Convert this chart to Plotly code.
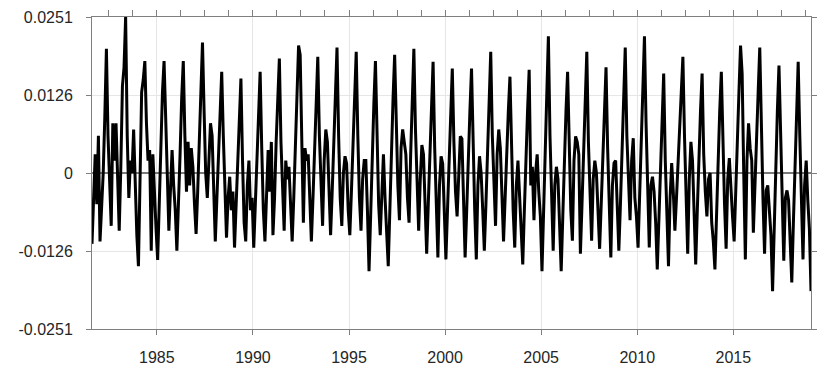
import plotly.graph_objects as go

# Monthly values (units of 1e-4); Jan..Dec
y1981 = [-114, -40, 30, -50, 60]  # Aug..Dec
y1982 = [-110, -50, 0, 90, 200, 60, -30, -85, 80, 20, 80, -20]
y1983 = [-93, 10, 140, 170, 251, 60, -40, 20, 0, 70, -30, -100]
y1984 = [-150, -20, 130, 150, 180, 80, 20, 37, -125, 30, -40, -90]
y1985 = [-140, -40, 50, 130, 180, 70, 0, -93, -30, 37, -20, -60]
y1986 = [-125, -60, 30, 120, 180, 60, -30, 50, -20, 40, 10, -50]
y1987 = [-98, -30, 60, 120, 210, 100, 0, -40, 30, 80, 60, -20]
y1988 = [-110, -40, 40, 110, 163, 60, -30, -104, -40, -6, -60, -30]
y1989 = [-120, -50, 30, 100, 152, 20, -80, -110, -20, 20, -60, -40]
y1990 = [-120, -50, 30, 100, 163, 40, -60, -110, -20, 37, -30, 50]
y1991 = [-100, -40, 50, 120, 184, 50, -40, -93, 20, -10, 10, -50]
y1992 = [-110, -40, 40, 130, 205, 190, 20, -80, 40, 20, 30, -60]
y1993 = [-110, -40, 50, 120, 187, 60, -30, -85, 20, 70, 50, -40]
y1994 = [-100, -30, 50, 130, 202, 60, -40, -85, 0, 27, 15, -60]
y1995 = [-100, -30, 50, 120, 195, 60, -40, -93, -10, 20, 20, -60]
y1996 = [-158, -70, 30, 110, 180, 50, -50, -100, -20, 30, -40, -100]
y1997 = [-150, -60, 40, 120, 190, 80, -20, -76, 40, 70, 50, 30]
y1998 = [-40, -80, 30, 120, 200, 70, -30, -93, -10, 45, 30, -50]
y1999 = [-130, -50, 40, 110, 179, 40, -60, -136, -20, 27, 15, -60]
y2000 = [-139, -60, 30, 100, 168, 50, -30, -70, 10, 59, 55, -40]
y2001 = [-136, -60, 30, 100, 168, 40, -60, -139, -20, 27, 0, -60]
y2002 = [-125, -50, 40, 120, 195, 60, -30, -85, 30, 70, 40, -40]
y2003 = [-110, -40, 40, 100, 155, 30, -60, -120, -20, 20, -30, -80]
y2004 = [-147, -60, 30, 100, 166, -20, 10, -76, 0, 30, -30, -70]
y2005 = [-158, -60, 40, 130, 220, 60, -60, -125, -20, 10, -10, -80]
y2006 = [-158, -70, 30, 100, 163, 30, -60, -109, 20, 59, 50, 30]
y2007 = [-130, -50, 40, 120, 195, 50, -50, -109, -10, 20, 0, -60]
y2008 = [-122, -50, 30, 100, 170, 40, -50, -136, -20, 16, 20, -60]
y2009 = [-125, -50, 40, 120, 202, 60, -20, -76, 20, 56, -40, -70]
y2010 = [-120, -40, 50, 130, 220, 80, -40, -120, -20, -6, -30, -80]
y2011 = [-155, -70, 20, 90, 160, 20, -80, -150, -40, 16, -30, -93]
y2012 = [-40, 20, 80, 140, 187, 60, -50, -130, -10, 50, 20, -60]
y2013 = [-147, -60, 30, 100, 160, 30, -30, -70, -10, 0, -80, -110]
y2014 = [-155, -60, 30, 100, 163, 30, -50, -122, -10, 24, -30, -70]
y2015 = [-110, -40, 50, 130, 205, 160, 0, -139, 20, 80, 40, 20]
y2016 = [-96, -30, 60, 130, 202, 60, -40, -130, -28, -20, -60, -100]
y2017 = [-190, -80, 20, 100, 173, 50, -50, -141, -40, -28, -44, -100]
y2018 = [-176, -80, 20, 100, 179, 60, -40, -139, -20, 20, -44, -90]
y2019 = [-190]  # Jan

years_data = [
    (1981, 8, y1981), (1982, 1, y1982), (1983, 1, y1983), (1984, 1, y1984),
    (1985, 1, y1985), (1986, 1, y1986), (1987, 1, y1987), (1988, 1, y1988),
    (1989, 1, y1989), (1990, 1, y1990), (1991, 1, y1991), (1992, 1, y1992),
    (1993, 1, y1993), (1994, 1, y1994), (1995, 1, y1995), (1996, 1, y1996),
    (1997, 1, y1997), (1998, 1, y1998), (1999, 1, y1999), (2000, 1, y2000),
    (2001, 1, y2001), (2002, 1, y2002), (2003, 1, y2003), (2004, 1, y2004),
    (2005, 1, y2005), (2006, 1, y2006), (2007, 1, y2007), (2008, 1, y2008),
    (2009, 1, y2009), (2010, 1, y2010), (2011, 1, y2011), (2012, 1, y2012),
    (2013, 1, y2013), (2014, 1, y2014), (2015, 1, y2015), (2016, 1, y2016),
    (2017, 1, y2017), (2018, 1, y2018), (2019, 1, y2019),
]

x_tick_vals = [1985, 1990, 1995, 2000, 2005, 2010, 2015]
y_tick_vals = [-0.0251, -0.01255, 0, 0.01255, 0.0251]
y_tick_text = ["-0.0251", "-0.0126", "0", "0.0126", "0.0251"]

t, v = [], []
for yr, m0, vals in years_data:
    for i, val in enumerate(vals):
        m = m0 + i
        t.append(yr + (m - 1) / 12 + 1 / 24)
        v.append(val * 1e-4)

xr = [t[0], t[-1]]
top_ticks = [1985 + 1.25 * k for k in range(-3, 28)]
top_ticks = [x for x in top_ticks if xr[0] <= x <= xr[1]]

fig = go.Figure()
fig.add_trace(go.Scatter(x=t, y=v, mode="lines",
                         line=dict(color="black", width=3), showlegend=False))
fig.add_trace(go.Scatter(x=[t[0]], y=[0], xaxis="x2", mode="markers",
                         marker=dict(opacity=0), showlegend=False, hoverinfo="skip"))

font = dict(family="Liberation Sans, Arial, sans-serif", size=16, color="#262626")
fig.update_layout(
    width=822, height=366,
    margin=dict(l=84, r=19, t=9, b=45, autoexpand=False),
    paper_bgcolor="white", plot_bgcolor="white",
    font=font,
    xaxis=dict(range=xr, tickvals=x_tick_vals, ticktext=[str(x) for x in x_tick_vals],
               showgrid=True, gridcolor="#e6e6e6", gridwidth=1,
               showline=True, linecolor="#7f7f7f", linewidth=1, mirror=True,
               ticks="outside", ticklen=5, tickcolor="#7f7f7f", zeroline=False,
               ticklabelstandoff=9),
    xaxis2=dict(range=xr, overlaying="x", side="top", tickvals=top_ticks,
                showticklabels=False, ticks="outside", ticklen=6, tickcolor="#7f7f7f",
                showgrid=False, showline=False, zeroline=False),
    yaxis=dict(range=[-0.0251, 0.0251], tickvals=y_tick_vals, ticktext=y_tick_text,
               showgrid=True, gridcolor="#e6e6e6", gridwidth=1,
               showline=True, linecolor="#7f7f7f", linewidth=1, mirror="ticks",
               ticks="outside", ticklen=5, tickcolor="#7f7f7f",
               zeroline=True, zerolinecolor="#7a7a7a", zerolinewidth=2,
               ticklabelstandoff=10),
)
fig.write_html("out.html")
